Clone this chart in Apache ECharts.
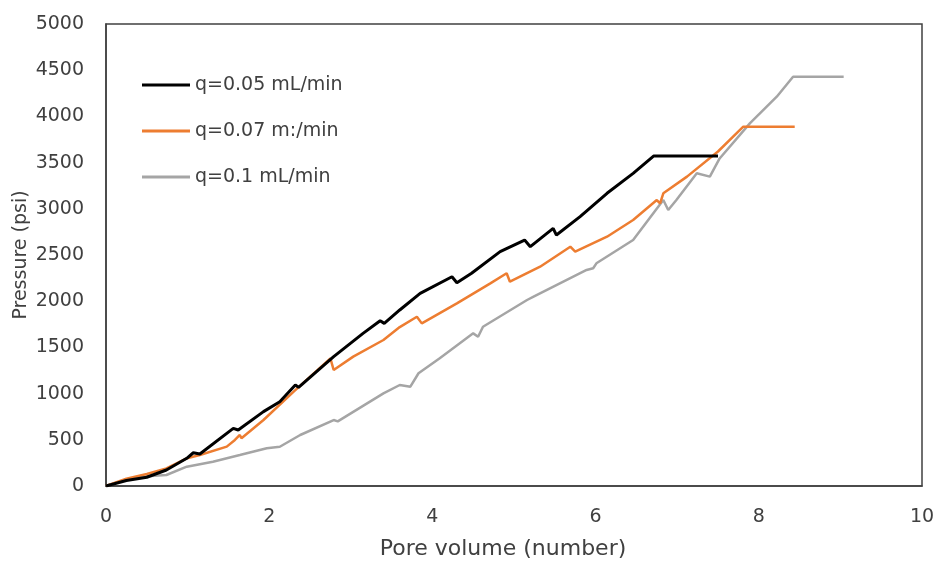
<!DOCTYPE html>
<html>
<head>
<meta charset="utf-8">
<script src="https://cdn.jsdelivr.net/npm/echarts@6/dist/echarts.min.js"></script>
<style>html,body{margin:0;padding:0;background:#fff}#c{width:936px;height:561px}</style>
</head>
<body>
<div id="c"></div>
<script>
const seriesNames = ['q=0.05 mL/min', 'q=0.07 m:/min', 'q=0.1 mL/min'];
const xTicks = [0, 2, 4, 6, 8, 10];
const yTicks = [0, 500, 1000, 1500, 2000, 2500, 3000, 3500, 4000, 4500, 5000];

const blackX = [0, 0.25, 0.5, 0.74, 0.99, 1.07, 1.15, 1.56, 1.62, 1.93, 2.13, 2.32, 2.36, 2.79, 3.15, 3.36, 3.41, 3.60, 3.85, 4.24, 4.30, 4.48, 4.83, 5.13, 5.20, 5.48, 5.52, 5.81, 6.14, 6.46, 6.71, 7.50];
const blackY = [0, 60, 95, 173, 300, 360, 346, 624, 606, 805, 912, 1093, 1068, 1400, 1652, 1789, 1760, 1905, 2085, 2265, 2200, 2302, 2536, 2662, 2590, 2789, 2716, 2915, 3168, 3383, 3571, 3571];

const orangeX = [0, 0.25, 0.5, 0.74, 0.99, 1.15, 1.48, 1.58, 1.64, 1.66, 1.93, 2.30, 2.75, 2.79, 3.03, 3.40, 3.60, 3.81, 3.87, 4.30, 4.71, 4.91, 4.95, 5.32, 5.69, 5.75, 6.14, 6.46, 6.75, 6.79, 6.83, 7.12, 7.50, 7.81, 8.44];
const orangeY = [0, 80, 130, 191, 300, 335, 426, 498, 552, 516, 714, 1021, 1382, 1255, 1400, 1580, 1720, 1832, 1760, 1977, 2193, 2302, 2211, 2373, 2590, 2536, 2698, 2879, 3095, 3059, 3168, 3348, 3620, 3889, 3889];

const grayX = [0, 0.25, 0.5, 0.74, 0.99, 1.31, 1.64, 1.97, 2.13, 2.38, 2.79, 2.84, 3.40, 3.60, 3.73, 3.83, 4.09, 4.50, 4.56, 4.62, 5.16, 5.24, 5.89, 5.97, 6.01, 6.46, 6.83, 6.89, 6.99, 7.24, 7.40, 7.52, 7.89, 8.22, 8.42, 9.04];
const grayY = [0, 70, 105, 119, 209, 263, 335, 408, 425, 552, 714, 700, 1003, 1093, 1075, 1220, 1382, 1652, 1616, 1724, 2013, 2049, 2338, 2356, 2410, 2662, 3095, 2987, 3095, 3384, 3348, 3545, 3925, 4213, 4430, 4430];

const zip = (xs, ys) => xs.map((x, i) => [x, ys[i]]);
const colors = ['#000000', '#ED7D31', '#A5A5A5'];
const font = 'DejaVu Sans, sans-serif';
const textColor = '#404040';

const chart = echarts.init(document.getElementById('c'), null, {renderer: 'canvas'});
chart.setOption({
  animation: false,
  backgroundColor: '#ffffff',
  color: colors,
  grid: {left: 106, right: 14, top: 24, bottom: 75, show: true, borderColor: '#404040', borderWidth: 1.5,
         containLabel: false, outerBoundsMode: 'none'},
  legend: {
    orient: 'vertical', left: 137, top: 70, itemGap: 26,
    itemWidth: 48, itemHeight: 3, icon: 'rect',
    textStyle: {fontFamily: font, fontSize: 19, lineHeight: 20, color: textColor},
    data: seriesNames
  },
  xAxis: {
    type: 'value', min: xTicks[0], max: xTicks[xTicks.length - 1], interval: 2,
    name: 'Pore volume (number)', nameLocation: 'middle', nameGap: 52, nameMoveOverlap: false,
    nameTextStyle: {fontFamily: font, fontSize: 22, color: textColor, padding: [0, 22, 0, 0]},
    axisLine: {show: true, lineStyle: {color: '#404040', width: 1.5}},
    axisTick: {show: false}, splitLine: {show: false},
    axisLabel: {fontFamily: font, fontSize: 19, color: textColor, margin: 22, formatter: v => String(v)}
  },
  yAxis: {
    type: 'value', min: yTicks[0], max: yTicks[yTicks.length - 1], interval: 500,
    name: 'Pressure (psi)', nameLocation: 'middle', nameGap: 75, nameMoveOverlap: false,
    nameTextStyle: {fontFamily: font, fontSize: 19, color: textColor},
    axisLine: {show: true, lineStyle: {color: '#404040', width: 1.5}},
    axisTick: {show: false}, splitLine: {show: false},
    axisLabel: {fontFamily: font, fontSize: 19, color: textColor, margin: 22, formatter: v => String(v)}
  },
  series: [
    {name: seriesNames[0], type: 'line', data: zip(blackX, blackY), showSymbol: false, lineStyle: {width: 3, color: colors[0]}, z: 3},
    {name: seriesNames[1], type: 'line', data: zip(orangeX, orangeY), showSymbol: false, lineStyle: {width: 2.5, color: colors[1]}, z: 2},
    {name: seriesNames[2], type: 'line', data: zip(grayX, grayY), showSymbol: false, lineStyle: {width: 2.5, color: colors[2]}, z: 1}
  ]
});
</script>
</body>
</html>
